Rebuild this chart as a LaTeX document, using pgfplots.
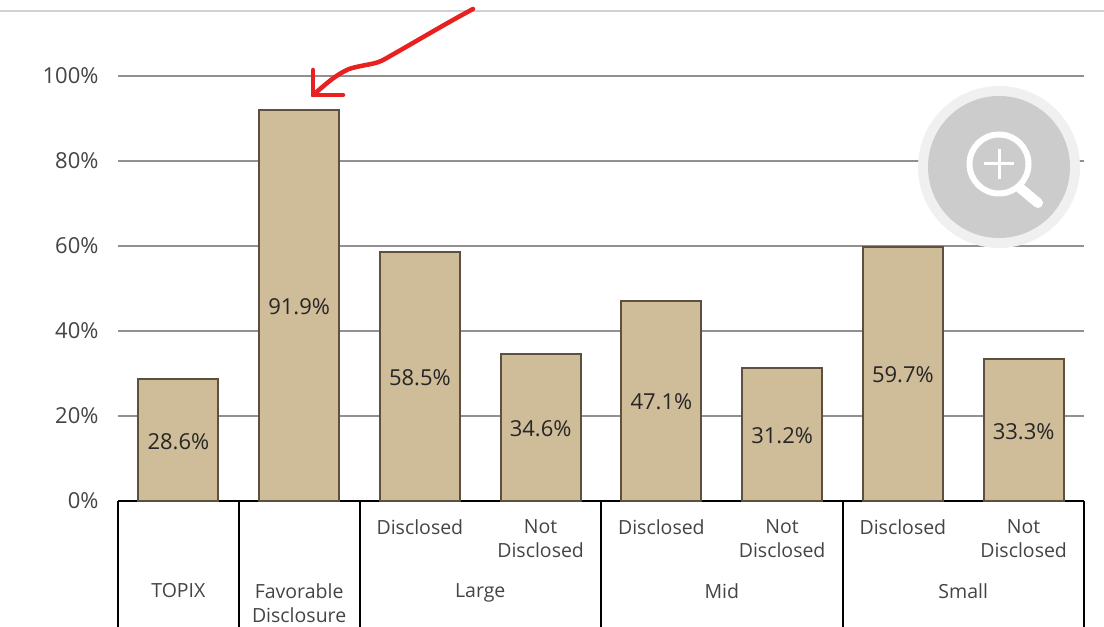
\documentclass[border=0pt]{standalone}
\usepackage{fontspec}
\setmainfont{Open Sans}
\usepackage{pgfplots}
\pgfplotsset{compat=1.18}
\definecolor{barfill}{HTML}{CFBC98}
\definecolor{baredge}{HTML}{5E5040}
\definecolor{labelgray}{HTML}{444444}
\definecolor{gridgray}{HTML}{909090}
\definecolor{redpen}{HTML}{E8201F}

\begin{document}
\begin{tikzpicture}[x=1pt,y=1pt]
\path[use as bounding box] (0,0) rectangle (1104,627);

\begin{axis}[
    at={(118pt,126pt)},
    anchor=south west,
    scale only axis,
    width=966pt,
    height=425pt,
    clip=false,
    xmin=-0.5, xmax=7.5,
    ymin=0, ymax=100,
    ybar,
    bar width=80pt,
    ytick={0,20,40,60,80,100},
    yticklabel={\pgfmathprintnumber{\tick}\%},
    /pgf/number format/assume math mode=true,
    y tick label style={font=\fontsize{22}{24}\selectfont,text=labelgray,anchor=east,xshift=-16pt},
    xtick={2,3,4,5,6,7},
    xticklabels={Disclosed,Not\\Disclosed,Disclosed,Not\\Disclosed,Disclosed,Not\\Disclosed},
    x tick label style={font=\fontsize{19.5}{24}\selectfont,text=labelgray,align=center,anchor=north,yshift=-15pt},
    major tick length=0pt,
    ymajorgrids,
    grid style={gridgray,line width=1.1pt},
    axis x line*=bottom,
    axis y line*=left,
    y axis line style={draw=none},
    x axis line style={black,line width=2pt,-},
    nodes near coords={\pgfmathprintnumber[fixed,fixed zerofill,precision=1]{\pgfplotspointmeta}\%},
    visualization depends on=rawy \as \rawv,
    every node near coord/.append style={
        anchor=center,
        font=\fontsize{22}{24}\selectfont,
        text=black!85,
        yshift={-2.125pt*\rawv-1pt}},
]
\addplot[ybar,fill=barfill,draw=baredge,line width=2pt] coordinates {
    (0,28.6) (1,91.9) (2,58.5) (3,34.6)
    (4,47.1) (5,31.2) (6,59.7) (7,33.3)
};

% table under the axis
\draw[black,line width=2pt]
    (axis cs:-0.5,0) -- ([yshift=-126pt]axis cs:-0.5,0)
    (axis cs:0.5,0) -- ([yshift=-126pt]axis cs:0.5,0)
    (axis cs:1.5,0) -- ([yshift=-126pt]axis cs:1.5,0)
    (axis cs:3.5,0) -- ([yshift=-126pt]axis cs:3.5,0)
    (axis cs:5.5,0) -- ([yshift=-126pt]axis cs:5.5,0)
    (axis cs:7.5,0) -- ([yshift=-126pt]axis cs:7.5,0);
\begin{scope}[every node/.style={font=\fontsize{19.5}{24}\selectfont,text=labelgray,align=center,anchor=north}]
\node at ([yshift=-79pt]axis cs:0,0) {TOPIX};
\node at ([yshift=-79pt]axis cs:1,0) {Favorable\\Disclosure};
\node at ([yshift=-79pt]axis cs:2.5,0) {Large};
\node at ([yshift=-79pt]axis cs:4.5,0) {Mid};
\node at ([yshift=-79pt]axis cs:6.5,0) {Small};
\end{scope}
\end{axis}

% page furniture, in pixels from the top left
\begin{scope}[shift={(0,627)},y=-1pt]
\draw[color=black!18,line width=2.5pt] (0,11) -- (1104,11);
\draw[redpen,line width=4.5pt,line cap=round,line join=round]
    (473,9) .. controls (445,24) and (415,42) .. (385,59)
    .. controls (375,65) and (365,64) .. (349,69)
    .. controls (335,75) and (325,85) .. (313,95);
\draw[redpen,line width=4.5pt,line cap=round,line join=round]
    (313,70) -- (313,95) -- (343,95);
\fill[color=black!6] (999,167) circle (81);
\fill[color=black!20] (999,167) circle (71);
\draw[white,line width=6pt] (999,164) circle (29.5);
\draw[white,line width=3pt] (984,164) -- (1014,164) (999,149) -- (999,179);
\draw[white,line width=10pt,line cap=round] (1020,188) -- (1038,203);
\end{scope}
\end{tikzpicture}
\end{document}
